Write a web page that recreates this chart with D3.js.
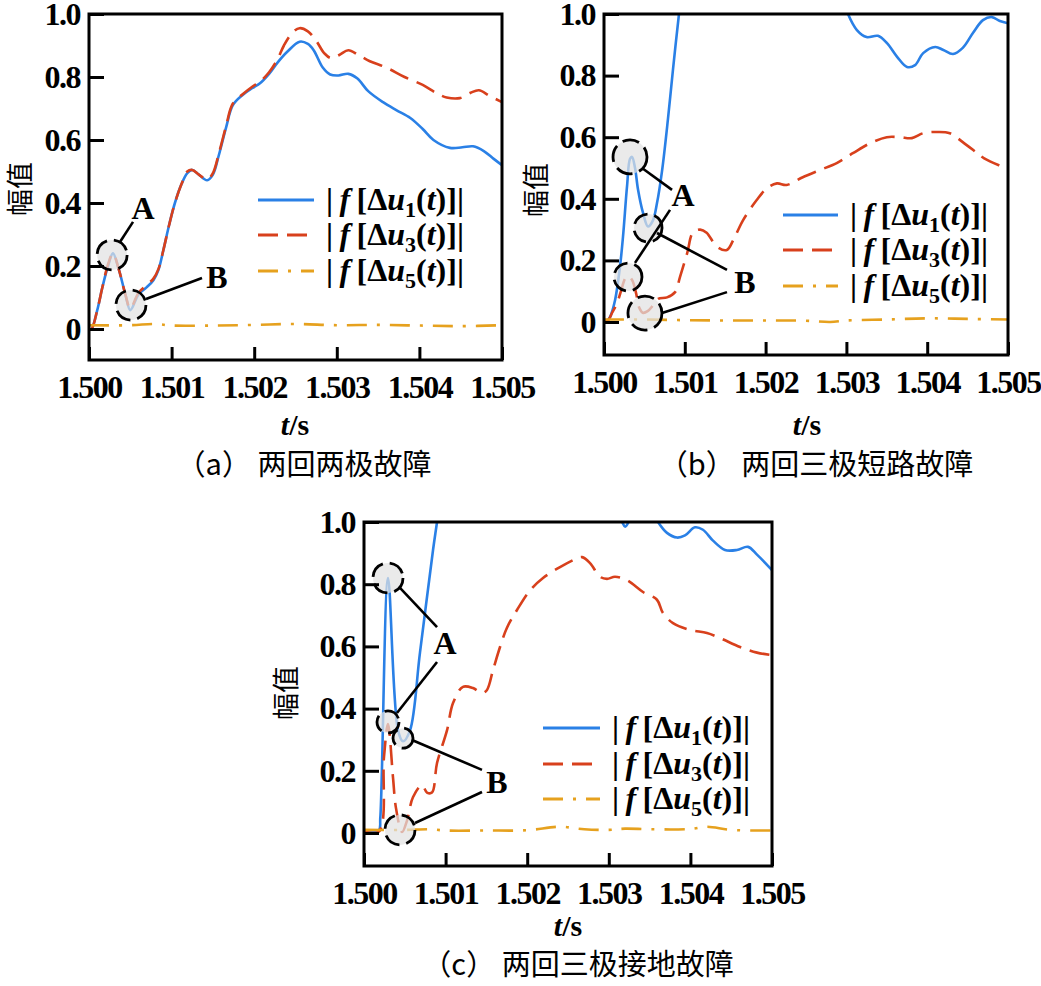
<!DOCTYPE html>
<html><head><meta charset="utf-8">
<script src="https://cdn.jsdelivr.net/npm/d3@7"></script>
<style>body{margin:0;background:#fff}</style>
</head><body><svg id="c" width="1041" height="986"></svg>
<script>
// ---------- data ----------
const xTicks = [1.500, 1.501, 1.502, 1.503, 1.504, 1.505];
const xTickLabels = ["1.500", "1.501", "1.502", "1.503", "1.504", "1.505"];
const yTicks = [0, 0.2, 0.4, 0.6, 0.8, 1.0];
const yTickLabels = ["0", "0.2", "0.4", "0.6", "0.8", "1.0"];
const seriesSubs = ["1", "3", "5"];
const captions = ["（a） 两回两极故障", "（b） 两回三极短路故障", "（c） 两回三极接地故障"];
const yTitle = "幅值";

// panel (a)
const aBlue = [[1.5,0],[1.50003,0],[1.5001,0.06],[1.50016,0.13],[1.50023,0.20],[1.50029,0.24],[1.50036,0.19],[1.50044,0.11],[1.5005,0.06],[1.5006,0.11],[1.5007,0.133],[1.50078,0.155],[1.50084,0.187],[1.5009,0.25],[1.50097,0.33],[1.50104,0.40],[1.50112,0.46],[1.50119,0.495],[1.50125,0.505],[1.50133,0.49],[1.50143,0.472],[1.5015,0.49],[1.50157,0.55],[1.50166,0.64],[1.50174,0.71],[1.50186,0.743],[1.50198,0.765],[1.50207,0.78],[1.50218,0.81],[1.50228,0.845],[1.5024,0.88],[1.50255,0.912],[1.50265,0.905],[1.50272,0.885],[1.50283,0.83],[1.50292,0.808],[1.50302,0.805],[1.50314,0.81],[1.50325,0.795],[1.50338,0.755],[1.50356,0.72],[1.50372,0.695],[1.50389,0.67],[1.50404,0.635],[1.50417,0.60],[1.50437,0.575],[1.50452,0.577],[1.50465,0.58],[1.50478,0.565],[1.5049,0.54],[1.505,0.52]];
const aRed = [[1.5,0],[1.50003,0],[1.5001,0.06],[1.50016,0.13],[1.50023,0.205],[1.50029,0.24],[1.50036,0.19],[1.50044,0.11],[1.5005,0.065],[1.5006,0.115],[1.5007,0.14],[1.50078,0.16],[1.50084,0.19],[1.5009,0.25],[1.50097,0.33],[1.50104,0.40],[1.50112,0.46],[1.50119,0.5],[1.50125,0.505],[1.50133,0.49],[1.50143,0.475],[1.5015,0.495],[1.50157,0.555],[1.50166,0.645],[1.50174,0.715],[1.50186,0.745],[1.50198,0.77],[1.50207,0.785],[1.50218,0.815],[1.50228,0.855],[1.50236,0.9],[1.50246,0.94],[1.50255,0.955],[1.50265,0.945],[1.50275,0.915],[1.50285,0.875],[1.50293,0.86],[1.50303,0.87],[1.50314,0.885],[1.50326,0.87],[1.5034,0.85],[1.5036,0.83],[1.50382,0.80],[1.50404,0.775],[1.5042,0.75],[1.50433,0.735],[1.50449,0.733],[1.50462,0.75],[1.50472,0.758],[1.50485,0.74],[1.505,0.72]];
const aOrange = [[1.5,0.012],[1.5005,0.012],[1.5008,0.016],[1.501,0.011],[1.5015,0.011],[1.502,0.013],[1.5025,0.016],[1.503,0.012],[1.5035,0.013],[1.504,0.011],[1.5045,0.009],[1.505,0.012]];

// panel (b)
const bBlue = [[1.5,0],[1.50004,0.004],[1.500074,0.016],[1.500136,0.07],[1.500198,0.18],[1.500235,0.276],[1.500285,0.44],[1.500322,0.53],[1.500347,0.536],[1.500384,0.5],[1.500421,0.43],[1.500483,0.354],[1.500545,0.31],[1.500606,0.33],[1.500656,0.386],[1.500718,0.49],[1.500792,0.66],[1.500854,0.82],[1.500928,1.0],[1.501,1.15],[1.5015,1.6],[1.502,1.8],[1.5025,1.5],[1.5029,1.1],[1.50302,1.0],[1.50313,0.948],[1.50325,0.925],[1.50339,0.929],[1.5035,0.906],[1.50363,0.86],[1.50375,0.828],[1.50385,0.834],[1.50395,0.873],[1.5041,0.893],[1.5042,0.883],[1.50432,0.87],[1.50444,0.89],[1.50457,0.94],[1.50469,0.98],[1.5048,0.99],[1.5049,0.977],[1.505,0.97]];
const bRed = [[1.5,0],[1.50005,0.005],[1.5001,0.03],[1.50016,0.06],[1.50021,0.10],[1.50026,0.14],[1.5003,0.15],[1.50035,0.135],[1.5004,0.09],[1.50043,0.05],[1.50048,0.03],[1.50054,0.035],[1.50061,0.055],[1.50067,0.075],[1.50078,0.08],[1.50088,0.097],[1.50094,0.146],[1.50103,0.224],[1.5011,0.29],[1.50119,0.30],[1.50127,0.29],[1.5014,0.244],[1.50152,0.234],[1.5016,0.266],[1.50172,0.33],[1.50189,0.396],[1.50202,0.435],[1.50214,0.45],[1.50226,0.445],[1.50246,0.47],[1.50267,0.493],[1.50288,0.516],[1.50308,0.548],[1.50329,0.58],[1.5035,0.60],[1.50366,0.60],[1.50381,0.597],[1.50395,0.613],[1.50412,0.617],[1.50428,0.613],[1.50444,0.584],[1.50462,0.548],[1.5047,0.532],[1.50488,0.51],[1.505,0.50]];
const bOrange = [[1.5,0.008],[1.5005,0.008],[1.501,0.006],[1.5015,0.005],[1.502,0.005],[1.5025,0.004],[1.5028,0.0],[1.503,0.005],[1.5035,0.008],[1.504,0.012],[1.5045,0.01],[1.505,0.008]];

// panel (c)
const cBlue = [[1.5,0.008],[1.50018,0.008],[1.5002,0.05],[1.500294,0.82],[1.500417,0.33],[1.500478,0.295],[1.500564,0.33],[1.500686,0.58],[1.500846,0.91],[1.500895,1.0],[1.501,1.2],[1.502,1.5],[1.5029,1.05],[1.50315,1.005],[1.5032,0.985],[1.50326,1.01],[1.5034,1.1],[1.5035,1.05],[1.503603,1.0],[1.503713,0.965],[1.503836,0.95],[1.503934,0.957],[1.504056,0.983],[1.504154,0.975],[1.504277,0.94],[1.504424,0.91],[1.50457,0.91],[1.504706,0.92],[1.504816,0.895],[1.505,0.845]];
const cRed = [[1.5,0.005],[1.500184,0.005],[1.500245,0.245],[1.500294,0.35],[1.500355,0.18],[1.500392,0.08],[1.500466,0.003],[1.500527,0.04],[1.5006,0.115],[1.500711,0.154],[1.500772,0.13],[1.500833,0.13],[1.500895,0.225],[1.501017,0.33],[1.501091,0.418],[1.501213,0.47],[1.501336,0.466],[1.501446,0.45],[1.501507,0.46],[1.501581,0.524],[1.501667,0.598],[1.501752,0.66],[1.501875,0.717],[1.502034,0.78],[1.502194,0.82],[1.502402,0.855],[1.50261,0.883],[1.502672,0.887],[1.50277,0.868],[1.502892,0.824],[1.502978,0.817],[1.503076,0.824],[1.503223,0.813],[1.503419,0.775],[1.50359,0.75],[1.503664,0.707],[1.503787,0.675],[1.503995,0.653],[1.504203,0.643],[1.504363,0.627],[1.504608,0.598],[1.504816,0.58],[1.505,0.572]];
const cOrange = [[1.5,0.01],[1.5005,0.01],[1.5008,0.012],[1.501,0.008],[1.5015,0.008],[1.502,0.009],[1.5024,0.02],[1.5027,0.012],[1.503,0.01],[1.5032,0.014],[1.5035,0.012],[1.504,0.013],[1.5042,0.02],[1.5045,0.01],[1.505,0.008]];

// annotations (data coordinates): circles [t, v], leader lines [t1,v1,t2,v2], labels [text,t,v]
const aCircles = [[1.50028,0.235],[1.500508,0.076]];
const aLeaders = [[1.500375,0.276,1.500533,0.34],[1.50069,0.095,1.501368,0.162]];
const aLabels = [["A",1.500654,0.384],["B",1.50155,0.165]];
const bCircles = [[1.500322,0.536],[1.500297,0.146],[1.500545,0.305],[1.500507,0.029]];
const bLeaders = [[1.50047,0.5,1.500842,0.429],[1.500384,0.192,1.500817,0.364],[1.500656,0.289,1.501522,0.169],[1.500718,0.029,1.501522,0.097]];
const bLabels = [["A",1.500978,0.412],["B",1.501745,0.13]];
const cCircles = [[1.500294,0.82],[1.500294,0.357],[1.500478,0.305],[1.500441,0.01]];
const cLeaders = [[1.500441,0.788,1.500895,0.662],[1.500404,0.386,1.500895,0.55],[1.500588,0.299,1.501446,0.203],[1.500625,0.032,1.501446,0.132]];
const cLabels = [["A",1.500993,0.611],["B",1.50163,0.164]];

// ---------- layout / style ----------
const colors = ["#2a80e6", "#d8401c", "#e6a11e"];
const dashes = [null, "20,9", "20,10,3,10"];
const serif = "Liberation Serif, serif";
const cjk = "Noto Sans CJK SC, sans-serif";

const panels = [
  {id:"a", series:[aBlue,aRed,aOrange], circles:aCircles, radii:[15,15], leaders:aLeaders, labels:aLabels,
   L:{left:89,right:502,top:14,zero:329,bottom:360, ytx:21, yty:189, xtx:295, xty:424, capx:304, capy:465,
      lg:{x0:258,x1:314,ys:[200,235,271],tx:326}}, caption:captions[0]},
  {id:"b", series:[bBlue,bRed,bOrange], circles:bCircles, radii:[17,14,14,17], leaders:bLeaders, labels:bLabels,
   L:{left:604,right:1008,top:14,zero:322,bottom:355, ytx:537, yty:190, xtx:807, xty:424, capx:816, capy:465,
      lg:{x0:783,x1:838,ys:[215,250,286],tx:850}}, caption:captions[1]},
  {id:"c", series:[cBlue,cRed,cOrange], circles:cCircles, radii:[15,11,10,15], leaders:cLeaders, labels:cLabels,
   L:{left:364,right:772,top:522,zero:833,bottom:866, ytx:287, yty:693, xtx:568, xty:925, capx:578, capy:965,
      lg:{x0:543,x1:600,ys:[728,764,799],tx:612}}, caption:captions[2]}
];

const svg = d3.select("#c");
svg.append("rect").attr("width",1041).attr("height",986).attr("fill","#fff");
const defs = svg.append("defs");

function legendText(sel, sub) {
  sel.append("tspan").text("|");
  sel.append("tspan").attr("font-style","italic").text("\u2009f\u2009");
  sel.append("tspan").text("[Δ");
  sel.append("tspan").attr("font-style","italic").text("u");
  sel.append("tspan").attr("font-size","22px").attr("dy",7).text(sub);
  sel.append("tspan").attr("dy",-7).text("(");
  sel.append("tspan").attr("font-style","italic").text("t");
  sel.append("tspan").text(")]|");
}

panels.forEach(p => {
  const L = p.L;
  const x = d3.scaleLinear().domain([xTicks[0], xTicks[xTicks.length-1]]).range([L.left, L.right]);
  const y = d3.scaleLinear().domain([0, 1]).range([L.zero, L.top]);
  const g = svg.append("g");
  const cid = "clip" + p.id;
  defs.append("clipPath").attr("id", cid).append("rect")
    .attr("x", L.left).attr("y", L.top).attr("width", L.right - L.left).attr("height", L.bottom - L.top);

  const line = d3.line().x(d => x(d[0])).y(d => y(d[1])).curve(d3.curveCatmullRom.alpha(0.5));
  const cg = g.append("g").attr("clip-path", `url(#${cid})`);
  p.series.forEach((s, i) => {
    cg.append("path").attr("d", line(s)).attr("fill","none").attr("stroke", colors[i])
      .attr("stroke-width", 2.6).attr("stroke-dasharray", dashes[i]);
  });

  // annotations
  p.circles.forEach((c, i) => {
    g.append("circle").attr("cx", x(c[0])).attr("cy", y(c[1])).attr("r", p.radii[i])
      .attr("fill", "rgba(226,226,226,0.72)").attr("stroke","#000").attr("stroke-width",2.8)
      .attr("stroke-dasharray","17,7");
  });
  p.leaders.forEach(l => {
    g.append("line").attr("x1", x(l[0])).attr("y1", y(l[1])).attr("x2", x(l[2])).attr("y2", y(l[3]))
      .attr("stroke","#000").attr("stroke-width",2.6);
  });
  p.labels.forEach(l => {
    g.append("text").attr("x", x(l[1])).attr("y", y(l[2])).attr("dy","0.35em").attr("text-anchor","middle")
      .style("font-family", serif).style("font-weight","bold").style("font-size","32px").text(l[0]);
  });

  // frame
  g.append("rect").attr("x", L.left).attr("y", L.top).attr("width", L.right - L.left).attr("height", L.bottom - L.top)
    .attr("fill","none").attr("stroke","#000").attr("stroke-width",3);

  // axes
  const yAxis = d3.axisLeft(y).tickValues(yTicks).tickSizeInner(-15).tickSizeOuter(0).tickPadding(9)
    .tickFormat((d, i) => yTickLabels[i]);
  const ya = g.append("g").attr("transform", `translate(${L.left},0)`).call(yAxis);
  const xAxis = d3.axisBottom(x).tickValues(xTicks).tickSizeInner(-13).tickSizeOuter(0).tickPadding(15)
    .tickFormat((d, i) => xTickLabels[i]);
  const xa = g.append("g").attr("transform", `translate(0,${L.bottom})`).call(xAxis);
  [ya, xa].forEach(a => {
    a.attr("font-family", null).attr("font-size", null);
    a.select(".domain").remove();
    a.selectAll(".tick line").attr("stroke","#000").attr("stroke-width",3);
    a.selectAll(".tick text").style("font-family", serif).style("font-size","32px").style("font-weight","bold")
      .attr("fill","#000").style("letter-spacing","-1.5px");
  });

  // legend
  p.series.forEach((s, i) => {
    g.append("line").attr("x1", L.lg.x0).attr("x2", L.lg.x1).attr("y1", L.lg.ys[i]).attr("y2", L.lg.ys[i])
      .attr("stroke", colors[i]).attr("stroke-width", 3).attr("stroke-dasharray", dashes[i]);
    const t = g.append("text").attr("x", L.lg.tx).attr("y", L.lg.ys[i]).attr("dy","0.32em")
      .style("font-family", serif).style("font-weight","bold").style("font-size","32px");
    legendText(t, seriesSubs[i]);
  });

  // titles
  g.append("text").attr("transform", `translate(${L.ytx},${L.yty}) rotate(-90)`).attr("text-anchor","middle")
    .attr("dy","0.35em").style("font-family", cjk).style("font-size","27px").text(yTitle);
  const xt = g.append("text").attr("x", L.xtx).attr("y", L.xty).attr("dy","0.35em").attr("text-anchor","middle")
    .style("font-family", serif).style("font-weight","bold").style("font-size","30px");
  xt.append("tspan").attr("font-style","italic").text("t");
  xt.append("tspan").text("/s");
  g.append("text").attr("x", L.capx).attr("y", L.capy).attr("dy","0.35em").attr("text-anchor","middle")
    .style("font-family", cjk).style("font-size","29px").text(p.caption);
});
</script></body></html>
